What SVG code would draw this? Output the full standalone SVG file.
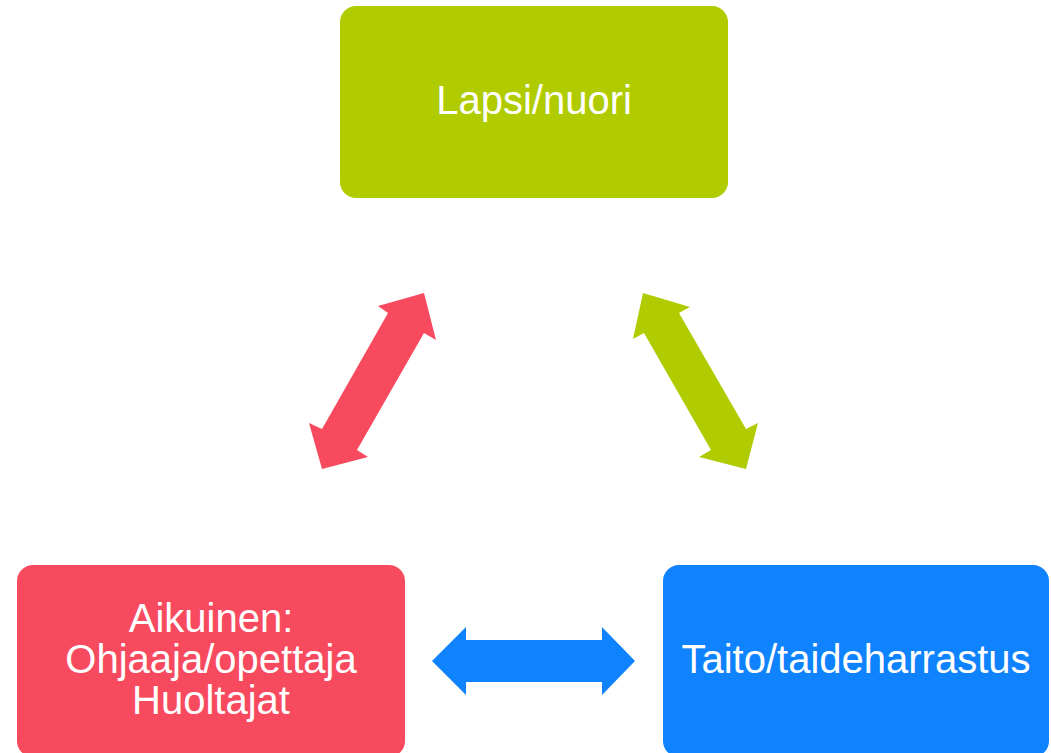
<svg xmlns="http://www.w3.org/2000/svg" width="1051" height="753" viewBox="0 0 1051 753">
<style>
.lbl{font-family:"Liberation Sans",Arial,sans-serif;font-size:40px;fill:#ffffff;text-anchor:middle}
.g{fill:#b0cb00}.r{fill:#f84a5f}.b{fill:#0f82fe}
</style>
<rect width="1051" height="753" fill="#ffffff"/>
<g id="node-lapsi">
<rect class="g" x="340" y="6" width="388" height="192" rx="16"/>
<text class="lbl" x="534" y="114">Lapsi/nuori</text>
</g>
<g id="node-aikuinen">
<rect class="r" x="17" y="565" width="388" height="192" rx="16"/>
<text class="lbl" x="211" y="632">Aikuinen:</text>
<text class="lbl" x="211" y="673">Ohjaaja/opettaja</text>
<text class="lbl" x="211" y="714">Huoltajat</text>
</g>
<g id="node-taito">
<rect class="b" x="663" y="565" width="386" height="192" rx="16"/>
<text class="lbl" x="856" y="673">Taito/taideharrastus</text>
</g>
<g id="connectors">
<polygon class="r" points="424,293 436,340 424,333 357,450 368,457 322,469 309,423 322,429 388,313 378,306"/>
<polygon class="g" points="643,293 690,307 679,313 746,429 758,423 746,469 699,457 711,450 644,333 633,339"/>
<polygon class="b" points="432,661 466,627 466,640 602,640 602,627 635,661 602,695 602,682 466,682 466,695"/>
</g>
</svg>
